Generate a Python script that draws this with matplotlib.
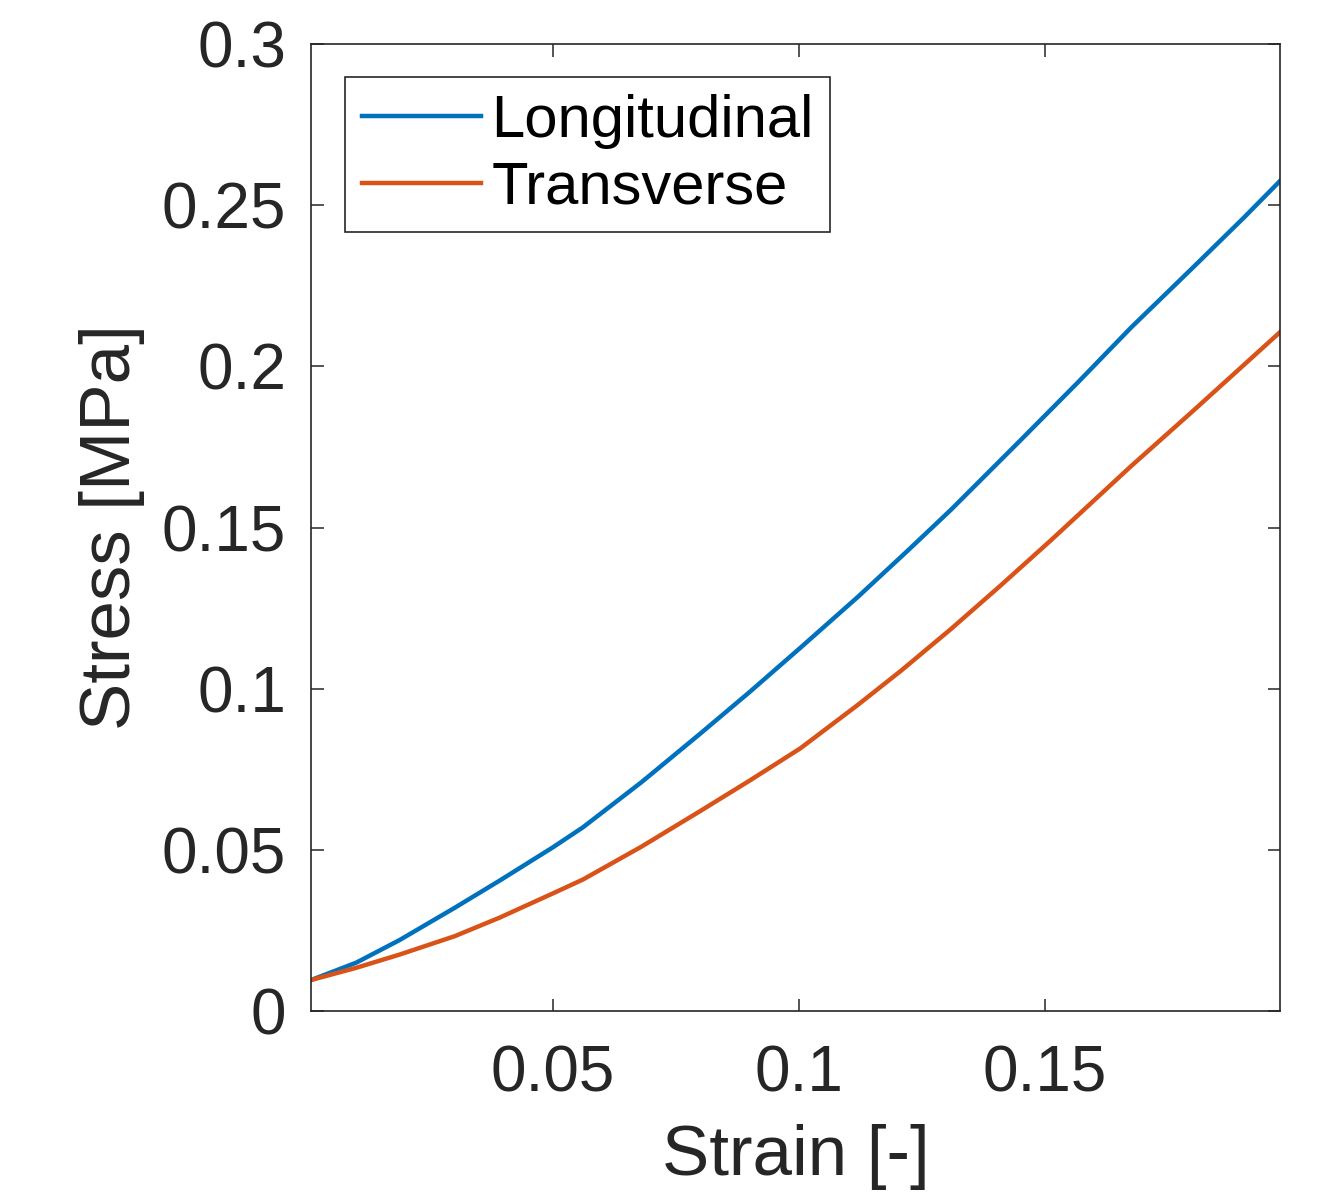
import matplotlib
matplotlib.use('Agg')
import matplotlib.pyplot as plt

plt.rcParams['font.family'] = ['Liberation Sans', 'DejaVu Sans']

# values
strain_long = [0.0008, 0.01, 0.0188, 0.03, 0.0392, 0.05, 0.0561, 0.068, 0.0799, 0.09, 0.1003,
               0.112, 0.1221, 0.1309, 0.145, 0.1567, 0.1675, 0.18, 0.1905, 0.1978]
stress_long = [0.0096, 0.0150, 0.0220, 0.0320, 0.0405, 0.0508, 0.0570, 0.0710, 0.0860, 0.0990, 0.1127,
               0.1285, 0.1428, 0.1555, 0.1770, 0.1950, 0.2120, 0.2305, 0.2462, 0.2575]

strain_trans = [0.0008, 0.01, 0.0188, 0.03, 0.0392, 0.05, 0.0561, 0.068, 0.0799, 0.09, 0.1003,
                0.112, 0.1207, 0.1309, 0.141, 0.1512, 0.1675, 0.18, 0.1905, 0.1978]
stress_trans = [0.0096, 0.0134, 0.0175, 0.0232, 0.0290, 0.0365, 0.0408, 0.0510, 0.0620, 0.0715, 0.0815,
                0.0950, 0.1055, 0.1185, 0.1320, 0.1460, 0.1690, 0.1860, 0.2005, 0.2106]

x_ticks = [0.05, 0.1, 0.15]
x_labels = ['0.05', '0.1', '0.15']
y_ticks = [0, 0.05, 0.1, 0.15, 0.2, 0.25, 0.3]
y_labels = ['0', '0.05', '0.1', '0.15', '0.2', '0.25', '0.3']

fig = plt.figure(figsize=(13.36, 11.97), dpi=100)
ax = fig.add_axes([311/1336, 1 - 1011/1197, 969/1336, 967/1197])

ax.plot(strain_long, stress_long, color='#0072BD', lw=3.2, label='Longitudinal')
ax.plot(strain_trans, stress_trans, color='#D95319', lw=3.2, label='Transverse')

ax.set_xlim(0.0008, 0.1978)
ax.set_ylim(0, 0.3)
ax.set_xticks(x_ticks)
ax.set_xticklabels(x_labels)
ax.set_yticks(y_ticks)
ax.set_yticklabels(y_labels)

for s in ax.spines.values():
    s.set_linewidth(1.2)
    s.set_color('#262626')
ax.tick_params(direction='in', length=9, width=1.1, color='#262626',
               top=True, right=True, labelsize=46, pad=18, labelcolor='#262626')
ax.tick_params(axis='x', pad=24)

ax.set_xlabel('Strain [-]', fontsize=51, color='#262626', labelpad=14)
ax.set_ylabel('Stress [MPa]', fontsize=51, color='#262626', labelpad=12)

leg = ax.legend(loc='upper left', bbox_to_anchor=(0.035, 0.966), borderaxespad=0,
                fontsize=43, handlelength=2.0, handletextpad=0.17, labelspacing=0.2,
                borderpad=0.28, fancybox=False, framealpha=1, edgecolor='#262626')
leg.get_frame().set_linewidth(1.2)

plt.savefig('out.png', dpi=100)
